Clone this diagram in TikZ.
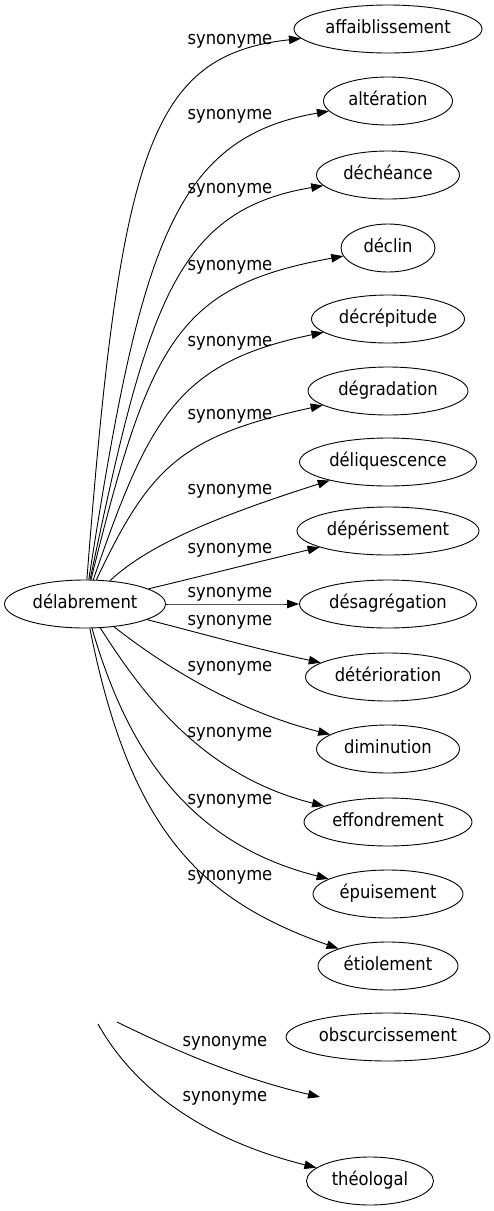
\documentclass[tikz,border=0pt]{standalone}
\usepackage{fontspec}
\setmainfont{DejaVu Sans Condensed}
\usetikzlibrary{arrows.meta,shapes.geometric}
\tikzset{
  word/.style={draw, ellipse, line width=0.9pt, inner xsep=3pt, inner ysep=1pt,
    minimum height=48pt, text height=13pt, text depth=4pt},
  rel/.style={inner sep=0pt},
  syn/.style={-{Triangle[length=12pt,width=8.5pt]}, line width=0.9pt},
}
\begin{document}
\begin{tikzpicture}[x=1pt,y=-1pt,font=\fontsize{18.2}{21}\selectfont]
  \useasboundingbox (0,0) rectangle (493,1211);
  \node[word, minimum width=161pt] (delabrement) at (85,604) {délabrement};
  % right column
  \foreach \id/\word/\y/\w in {
    affai/affaiblissement/29/188, alter/altération/101/129,
    deche/déchéance/175/143, declin/déclin/248/94,
    decrep/décrépitude/319/153, degrad/dégradation/391/160,
    deliq/déliquescence/462/177, deperi/dépérissement/531/182,
    desagr/désagrégation/604/177, deterio/détérioration/677/165,
    dimin/diminution/749/143, effon/effondrement/822/168,
    epuis/épuisement/894/150, etiol/étiolement/966/140,
    obscur/obscurcissement/1037/200} {
    \node[word, minimum width=\w pt] (\id) at (388,\y) {\word};
  }
  \node[word, minimum width=127pt] (theolo) at (370,1181) {théologal};
  % edges from délabrement
  \foreach \id/\ly/\ax/\ay/\bx/\by in {
    affai/41/120/150/150/55, alter/116/140/250/172/138,
    deche/190/147/307/175/210, declin/267/150/340/178/286,
    decrep/343/150/414/180/362, degrad/416/150/466/182/436,
    deliq/491/145/548/205/520, deperi/550/198/577/249/564,
    desagr/594/200/604/250/604, deterio/622/200/633/252/648,
    dimin/668/150/655/225/708, effon/734/140/690/200/775,
    epuis/801/130/760/195/845, etiol/877/130/830/200/900} {
    \draw[syn] (delabrement) .. controls (\ax,\ay) and (\bx,\by) .. (\id);
    \node[rel] (lbl-\id) at (230,\ly) {synonyme};
  }
  % loose ends at the bottom
  \coordinate (obs-from) at (117,1022);
  \coordinate (obs-to) at (320,1097);
  \coordinate (theo-from) at (98,1024);
  \draw[syn] (obs-from) .. controls (170,1048) and (235,1077) .. (obs-to);
  \node[rel] (lbl-obs) at (225,1043) {synonyme};
  \draw[syn] (theo-from) .. controls (135,1090) and (205,1140) .. (theolo);
  \node[rel] (lbl-theo) at (225,1098) {synonyme};
\end{tikzpicture}
\end{document}
